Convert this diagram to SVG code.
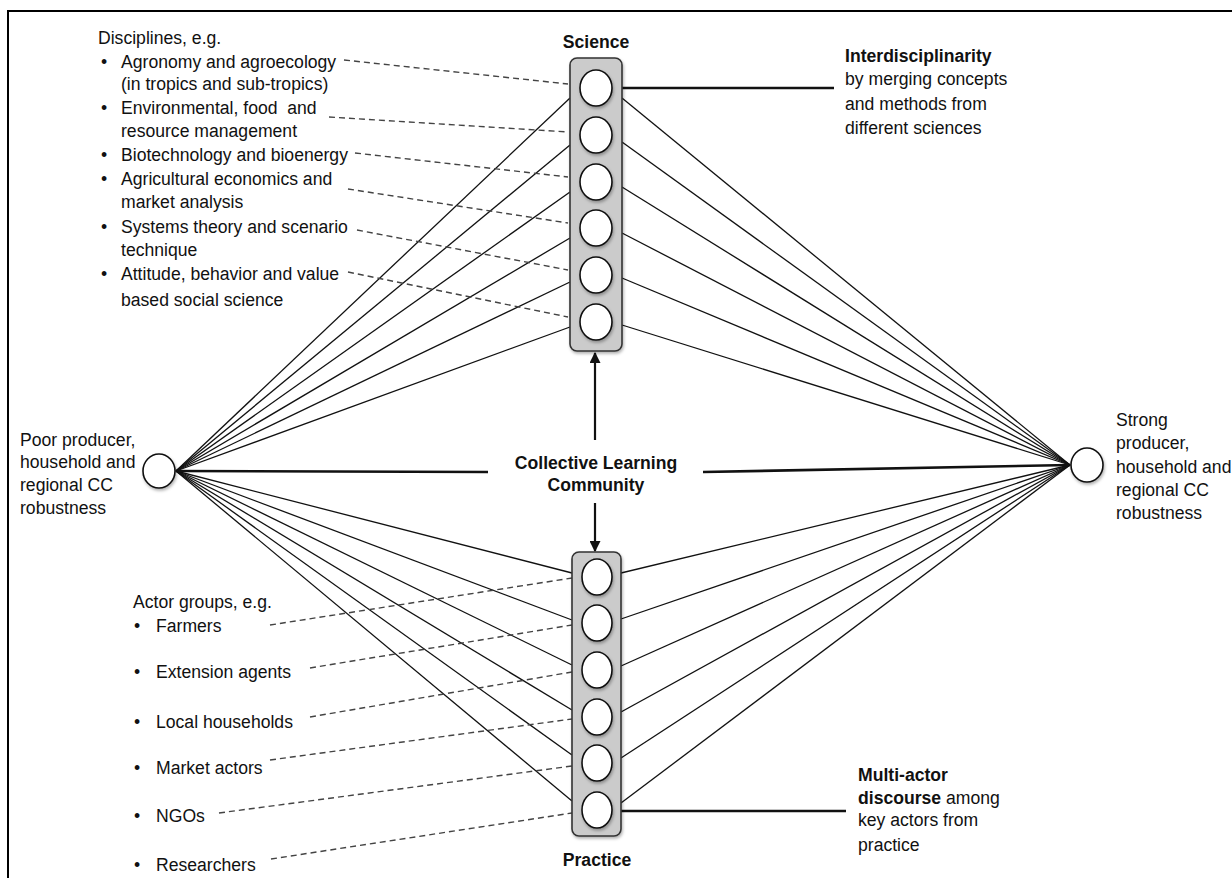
<svg xmlns="http://www.w3.org/2000/svg" width="1232" height="878" viewBox="0 0 1232 878">
<style>
text{font-family:"Liberation Sans",Arial,Helvetica,sans-serif;font-size:17.6px;fill:#111}
.b{font-weight:bold}
.m{text-anchor:middle}
.thin{stroke:#111;stroke-width:1.3;fill:none}
.thick{stroke:#111;stroke-width:2.6;fill:none}
.dash{stroke:#444;stroke-width:1.4;stroke-dasharray:6 4;fill:none}
.col{fill:#cbcbcb;stroke:#333;stroke-width:1.6;filter:url(#sh)}
.node{fill:#fff;stroke:#111;stroke-width:1.6;filter:url(#sh)}
</style>
<defs>
<filter id="sh" x="-30%" y="-30%" width="160%" height="160%">
<feDropShadow dx="1" dy="2" stdDeviation="1.5" flood-color="#000" flood-opacity="0.3"/>
</filter>
<marker id="ah" viewBox="0 0 10 10" refX="9" refY="5" markerWidth="5" markerHeight="5" orient="auto" markerUnits="strokeWidth">
<path d="M0,0 L10,5 L0,10 z" fill="#111"/>
</marker>
</defs>
<rect width="1232" height="878" fill="#fff"/>
<path d="M8,878 V11 H1232" fill="none" stroke="#000" stroke-width="2"/>

<g id="connectors">
<!-- left node to science -->
<line class="thin" x1="176" y1="471" x2="570" y2="98"/>
<line class="thin" x1="176" y1="471" x2="570" y2="145"/>
<line class="thin" x1="176" y1="471" x2="570" y2="192"/>
<line class="thin" x1="176" y1="471" x2="570" y2="238"/>
<line class="thin" x1="176" y1="471" x2="570" y2="282"/>
<line class="thin" x1="176" y1="471" x2="570" y2="327"/>
<!-- left node to practice -->
<line class="thin" x1="176" y1="471" x2="572" y2="573"/>
<line class="thin" x1="176" y1="471" x2="572" y2="620"/>
<line class="thin" x1="176" y1="471" x2="572" y2="665"/>
<line class="thin" x1="176" y1="471" x2="572" y2="710"/>
<line class="thin" x1="176" y1="471" x2="572" y2="755"/>
<line class="thin" x1="176" y1="471" x2="572" y2="801"/>
<!-- science to right node -->
<line class="thin" x1="622" y1="98" x2="1070" y2="465"/>
<line class="thin" x1="622" y1="142" x2="1070" y2="465"/>
<line class="thin" x1="622" y1="187" x2="1070" y2="465"/>
<line class="thin" x1="622" y1="233" x2="1070" y2="465"/>
<line class="thin" x1="622" y1="278" x2="1070" y2="465"/>
<line class="thin" x1="622" y1="325" x2="1070" y2="465"/>
<!-- practice to right node -->
<line class="thin" x1="621" y1="573" x2="1070" y2="465"/>
<line class="thin" x1="621" y1="619" x2="1070" y2="465"/>
<line class="thin" x1="621" y1="666" x2="1070" y2="465"/>
<line class="thin" x1="621" y1="712" x2="1070" y2="465"/>
<line class="thin" x1="621" y1="758" x2="1070" y2="465"/>
<line class="thin" x1="621" y1="803" x2="1070" y2="465"/>
<!-- central -->
<line class="thick" x1="176" y1="471" x2="488" y2="472"/>
<line class="thick" x1="703" y1="472" x2="1070" y2="465"/>
<line class="thick" x1="622" y1="88" x2="834" y2="88"/>
<line class="thick" x1="621" y1="811" x2="846" y2="811"/>
<line class="thick" x1="595" y1="440" x2="595" y2="353" marker-end="url(#ah)" style="stroke-width:2.2"/>
<line class="thick" x1="595" y1="503" x2="595" y2="551" marker-end="url(#ah)" style="stroke-width:2.2"/>
<!-- dashed science -->
<line class="dash" x1="344" y1="60" x2="568" y2="84"/>
<line class="dash" x1="329" y1="117" x2="568" y2="132"/>
<line class="dash" x1="355" y1="153" x2="568" y2="177"/>
<line class="dash" x1="348" y1="189" x2="568" y2="223"/>
<line class="dash" x1="357" y1="230" x2="568" y2="270"/>
<line class="dash" x1="348" y1="272" x2="568" y2="317"/>
<!-- dashed practice -->
<line class="dash" x1="270" y1="625" x2="572" y2="578"/>
<line class="dash" x1="310" y1="668" x2="572" y2="625"/>
<line class="dash" x1="310" y1="717" x2="572" y2="672"/>
<line class="dash" x1="270" y1="760" x2="572" y2="719"/>
<line class="dash" x1="219" y1="813" x2="572" y2="766"/>
<line class="dash" x1="271" y1="859" x2="572" y2="813"/>
</g>

<g id="science">
<text class="b m" x="596" y="48">Science</text>
<rect class="col" x="570" y="58" width="52" height="293" rx="7"/>
<ellipse class="node" cx="596" cy="88" rx="16" ry="18"/>
<ellipse class="node" cx="596" cy="135" rx="16" ry="18"/>
<ellipse class="node" cx="596" cy="182" rx="16" ry="18"/>
<ellipse class="node" cx="596" cy="228" rx="16" ry="18"/>
<ellipse class="node" cx="596" cy="275" rx="16" ry="18"/>
<ellipse class="node" cx="596" cy="322" rx="16" ry="18"/>
</g>

<g id="practice">
<rect class="col" x="572" y="552" width="49" height="284" rx="7"/>
<ellipse class="node" cx="597" cy="577" rx="15" ry="18"/>
<ellipse class="node" cx="597" cy="623" rx="15" ry="18"/>
<ellipse class="node" cx="597" cy="670" rx="15" ry="18"/>
<ellipse class="node" cx="597" cy="717" rx="15" ry="18"/>
<ellipse class="node" cx="597" cy="763" rx="15" ry="18"/>
<ellipse class="node" cx="597" cy="810" rx="15" ry="18"/>
<text class="b m" x="597" y="866">Practice</text>
</g>

<g id="poor">
<ellipse class="node" cx="159" cy="471" rx="16" ry="17"/>
<text x="20" y="446">Poor producer,</text>
<text x="20" y="468">household and</text>
<text x="20" y="491">regional CC</text>
<text x="20" y="514">robustness</text>
</g>

<g id="strong">
<ellipse class="node" cx="1087" cy="465" rx="16" ry="17"/>
<text x="1116" y="426">Strong</text>
<text x="1116" y="449">producer,</text>
<text x="1116" y="473">household and</text>
<text x="1116" y="496">regional CC</text>
<text x="1116" y="519">robustness</text>
</g>

<g id="clc">
<text class="b m" x="596" y="469">Collective Learning</text>
<text class="b m" x="596" y="491">Community</text>
</g>

<g id="interdisciplinarity">
<text class="b" x="845" y="62">Interdisciplinarity</text>
<text x="845" y="85">by merging concepts</text>
<text x="845" y="110">and methods from</text>
<text x="845" y="134">different sciences</text>
</g>

<g id="multiactor">
<text x="858" y="781" class="b">Multi-actor</text>
<text x="858" y="804"><tspan class="b">discourse</tspan> among</text>
<text x="858" y="826">key actors from</text>
<text x="858" y="851">practice</text>
</g>

<g id="disciplines">
<text x="98" y="44">Disciplines, e.g.</text>
<text class="m" x="104" y="68">•</text><text x="121" y="68">Agronomy and agroecology</text>
<text x="121" y="90">(in tropics and sub-tropics)</text>
<text class="m" x="104" y="114">•</text><text x="121" y="114" xml:space="preserve">Environmental, food  and</text>
<text x="121" y="137">resource management</text>
<text class="m" x="104" y="161">•</text><text x="121" y="161">Biotechnology and bioenergy</text>
<text class="m" x="104" y="185">•</text><text x="121" y="185">Agricultural economics and</text>
<text x="121" y="208">market analysis</text>
<text class="m" x="104" y="233">•</text><text x="121" y="233">Systems theory and scenario</text>
<text x="121" y="256">technique</text>
<text class="m" x="104" y="280">•</text><text x="121" y="280">Attitude, behavior and value</text>
<text x="121" y="306">based social science</text>
</g>

<g id="actors">
<text x="133" y="608">Actor groups, e.g.</text>
<text class="m" x="137" y="632">•</text><text x="156" y="632">Farmers</text>
<text class="m" x="137" y="678">•</text><text x="156" y="678">Extension agents</text>
<text class="m" x="137" y="728">•</text><text x="156" y="728">Local households</text>
<text class="m" x="137" y="774">•</text><text x="156" y="774">Market actors</text>
<text class="m" x="137" y="822">•</text><text x="156" y="822">NGOs</text>
<text class="m" x="137" y="871">•</text><text x="156" y="871">Researchers</text>
</g>
</svg>
